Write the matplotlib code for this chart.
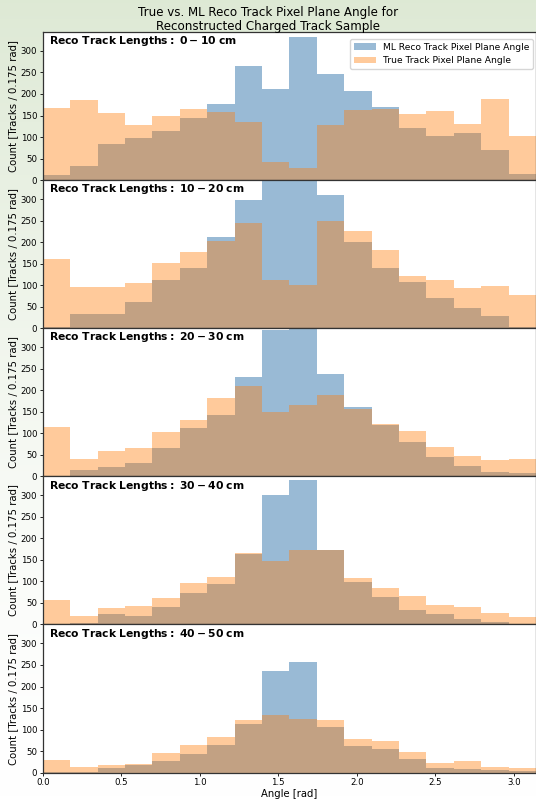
#!/usr/bin/env python3
"""True vs. ML reco track pixel plane angle, split by reco track length."""

import numpy as np
from matplotlib import pyplot as plt

# bin counts per 0.175 rad bin, 18 bins from 0 to pi
length_labels = ["0 - 10", "10 - 20", "20 - 30", "30 - 40", "40 - 50"]

reco_0_10 = [12, 33, 84, 97, 113, 145, 177, 265, 211, 333, 247, 206, 170, 121, 103, 109, 71, 14]
true_0_10 = [168, 187, 155, 129, 149, 164, 157, 136, 41, 27, 129, 162, 166, 154, 160, 131, 188, 102]

reco_10_20 = [4, 32, 32, 62, 111, 141, 212, 297, 390, 400, 309, 201, 141, 107, 71, 46, 29, 4]
true_10_20 = [161, 95, 95, 106, 152, 178, 203, 244, 113, 101, 249, 225, 182, 121, 111, 93, 97, 77]

reco_20_30 = [1, 14, 22, 32, 66, 113, 142, 230, 340, 375, 237, 160, 119, 79, 45, 24, 10, 8]
true_20_30 = [115, 41, 60, 67, 103, 132, 181, 211, 149, 165, 190, 156, 121, 105, 69, 48, 37, 40]

reco_30_40 = [1, 4, 25, 19, 41, 73, 93, 164, 300, 335, 174, 98, 65, 34, 25, 13, 6, 1]
true_30_40 = [57, 20, 39, 44, 61, 96, 111, 166, 148, 172, 172, 107, 84, 67, 45, 40, 26, 17]

reco_40_50 = [1, 1, 10, 18, 28, 43, 65, 113, 237, 256, 107, 62, 54, 31, 11, 9, 6, 4]
true_40_50 = [29, 13, 17, 21, 46, 65, 83, 123, 134, 125, 123, 77, 74, 47, 22, 26, 13, 10]

reco_sets = [reco_0_10, reco_10_20, reco_20_30, reco_30_40, reco_40_50]
true_sets = [true_0_10, true_10_20, true_20_30, true_30_40, true_40_50]

edges = np.linspace(0, np.pi, 19)

fig, axes = plt.subplots(5, 1, figsize=(5.36, 7.99), dpi=100, sharex=True)
fig.subplots_adjust(left=0.080, right=1.0, top=0.960, bottom=0.033, hspace=0)

# light green wash at the top of the figure fading to white
bg = fig.add_axes([0, 0, 1, 1], zorder=-10)
grad = np.linspace(1, 0, 256).reshape(-1, 1) ** 1.5
top = np.array([0.870, 0.915, 0.835])
img = np.ones((256, 1, 3)) - grad[..., None] * (1 - top)
bg.imshow(img, aspect="auto", extent=[0, 1, 0, 1])
bg.axis("off")

for ax, lab, reco, true in zip(axes, length_labels, reco_sets, true_sets):
    ax.stairs(reco, edges, fill=True, color="steelblue", alpha=0.55,
              label="ML Reco Track Pixel Plane Angle")
    ax.stairs(true, edges, fill=True, color="C1", alpha=0.41,
              label="True Track Pixel Plane Angle")
    ax.set_xlim(0, np.pi)
    ax.set_ylim(0, 344)
    ax.set_yticks(range(0, 301, 50))
    ax.tick_params(labelsize=6.2, length=2.5, width=0.6, pad=1.5)
    ax.set_ylabel("Count [Tracks / 0.175 rad]", fontsize=7.3, labelpad=2)
    a, b = lab.split(" - ")
    ax.text(0.013, 0.985, rf"$\bf{{Reco\ Track\ Lengths:\ {a} - {b}\ cm}}$",
            transform=ax.transAxes, ha="left", va="top", fontsize=7.75)
    for s in ax.spines.values():
        s.set_color("#333333")
        s.set_linewidth(0.9)

axes[0].legend(loc="upper right", bbox_to_anchor=(1.0, 0.971), fontsize=6.6,
               frameon=True, handlelength=2.4, borderaxespad=0.3)
axes[-1].set_xticks(np.arange(0, 3.01, 0.5))
axes[-1].set_xlabel("Angle [rad]", fontsize=7.2, labelpad=1)

fig.suptitle("True vs. ML Reco Track Pixel Plane Angle for\n"
             "Reconstructed Charged Track Sample", fontsize=8.6,
             y=0.992, linespacing=1.05)

fig.savefig("out.png", dpi=100)
